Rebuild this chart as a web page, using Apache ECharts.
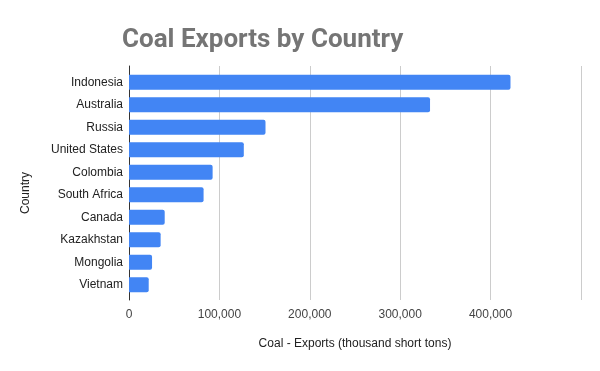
<!DOCTYPE html>
<html><head><meta charset="utf-8">
<script src="https://cdn.jsdelivr.net/npm/echarts@6/dist/echarts.min.js"></script>
<style>html,body{margin:0;padding:0;background:#fff}#c{width:600px;height:371px}</style>
</head><body><div id="c"></div>
<script>
const countries = ["Indonesia","Australia","Russia","United States","Colombia","South Africa","Canada","Kazakhstan","Mongolia","Vietnam"];
const exportsK = [422000,333000,151000,127000,92500,82500,39500,35000,25500,21800];
const xTicks = [0,100000,200000,300000,400000,500000];
const titleText = "Coal Exports by Country";
const xName = "Coal - Exports (thousand short tons)";
const yName = "Country";

const font = 'Liberation Sans, Arial';
const xMax = xTicks[xTicks.length-1];
const chart = echarts.init(document.getElementById('c'), null, {renderer:'canvas'});
chart.setOption({
  animation:false,
  title:{text:titleText,left:117,top:22,textStyle:{fontFamily:'Roboto',fontWeight:'bold',fontSize:26,color:'#757575'}},
  grid:[
    {left:129,right:19,top:66,bottom:71,containLabel:false,outerBoundsMode:'none'},
    {left:129,right:19,top:71,bottom:75,containLabel:false,outerBoundsMode:'none'}
  ],
  xAxis:[
    {gridIndex:0,type:'value',min:xTicks[0],max:xMax,interval:100000,
      name:xName,nameLocation:'middle',nameGap:38,
      nameTextStyle:{fontFamily:font,fontSize:12,color:'#222'},
      axisLine:{show:false},axisTick:{show:false},
      axisLabel:{fontFamily:font,fontSize:12,color:'#444',margin:9,
        formatter:v=> v>=xMax?'':v.toLocaleString('en-US')},
      splitLine:{lineStyle:{color:'#cccccc',width:1}}},
    {gridIndex:1,type:'value',min:xTicks[0],max:xMax,interval:100000,
      axisLine:{show:false},axisTick:{show:false},axisLabel:{show:false},splitLine:{show:false}}
  ],
  yAxis:[
    {gridIndex:0,type:'value',min:0,max:1,
      axisLine:{show:true,lineStyle:{color:'#333',width:1}},axisTick:{show:false},
      axisLabel:{show:false},splitLine:{show:false}},
    {gridIndex:1,type:'category',data:countries,inverse:true,
      name:yName,nameLocation:'middle',nameGap:97,
      nameTextStyle:{fontFamily:font,fontSize:12,color:'#222',padding:[0,19,0,0]},
      axisLine:{show:false},axisTick:{show:false},
      axisLabel:{fontFamily:font,fontSize:12,color:'#222',margin:6}}
  ],
  series:[{type:'bar',xAxisIndex:1,yAxisIndex:1,data:exportsK,barWidth:15,
    itemStyle:{color:'#4285f4',borderRadius:[0,2,2,0]}}]
});
</script></body></html>
